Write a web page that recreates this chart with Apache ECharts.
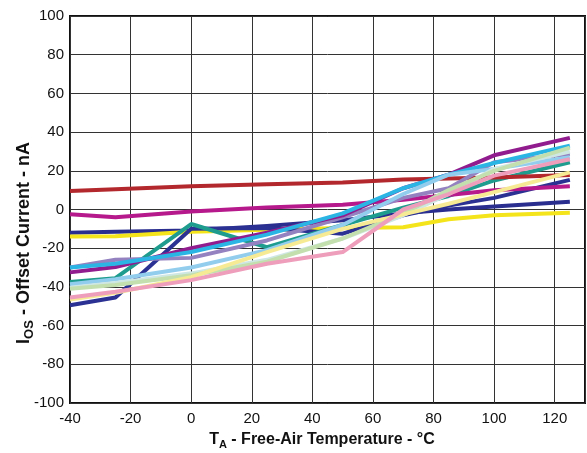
<!DOCTYPE html>
<html>
<head>
<meta charset="utf-8">
<script src="https://cdn.jsdelivr.net/npm/echarts@6/dist/echarts.min.js"></script>
<style>
html,body{margin:0;padding:0;background:#fff;}
#chart{width:587px;height:453px;}
</style>
</head>
<body>
<div id="chart"></div>
<script>
// Temperatures (°C) at which each unit was measured
var temps = [-40, -25, 0, 25, 50, 70, 85, 100, 125];
var xTicks = [-40, -20, 0, 20, 40, 60, 80, 100, 120];
var yTicks = [-100, -80, -60, -40, -20, 0, 20, 40, 60, 80, 100];

// Offset current (nA) for each sample unit
var navyA      = [-12, -11.5, -10.8, -8.5, -5.5, -2, 0, 1.5, 4];
var yellow     = [-14, -13.8, -11.5, -10.5, -9.5, -9.2, -5, -3, -1.7];
var navyB      = [-49.5, -45.5, -10, -9.5, -12.5, -3, 2, 6, 15.3];
var teal       = [-37.5, -35.5, -7.5, -19.5, -8, 1, 7, 15, 24.4];
var darkRed    = [9.5, 10.5, 12, 13, 14, 15.5, 16, 16.5, 17.8];
var magenta    = [-2.5, -4, -1, 1, 2.5, 5, 7.5, 10, 12];
var lavender   = [-30, -26, -25, -16, -4, 6, 11, 24.4, 28.7];
var purple     = [-32.5, -29.7, -20, -12, -3, 11, 18, 28, 37];
var cyan       = [-30, -28, -22, -13, -2, 11, 18, 24, 33];
var skyBlue    = [-38.6, -36, -30, -21, -8, 8, 18, 21, 27];
var paleMint   = [-40.4, -38, -33, -26, -15, -3, 8, 21, 30];
var lightGreen = [-41, -39, -34, -27, -15, -2, 10, 20, 32];
var lightYellow= [-46.5, -43, -35, -22, -10, -2.5, 3, 9, 19.2];
var pink       = [-45.5, -42.5, -36.5, -28, -22, 0, 8, 17.5, 26];

var seriesDefs = [
  ['navyA', navyA, '#2a2e8e'],
  ['yellow', yellow, '#f4e41b'],
  ['navyB', navyB, '#2b3192'],
  ['teal', teal, '#1e9c8e'],
  ['darkRed', darkRed, '#b3282d'],
  ['magenta', magenta, '#b5198b'],
  ['lavender', lavender, '#9381c0'],
  ['purple', purple, '#901c8e'],
  ['cyan', cyan, '#2ab5e4'],
  ['skyBlue', skyBlue, '#92cdee'],
  ['paleMint', paleMint, '#cfe7e3'],
  ['lightGreen', lightGreen, '#c3dfae'],
  ['lightYellow', lightYellow, '#f6eb94'],
  ['pink', pink, '#ee9dbb']
];

function pairs(vals){ return temps.map(function(t,i){ return [t, vals[i]]; }); }

var chart = echarts.init(document.getElementById('chart'), null, {renderer:'canvas'});
var font = '"Liberation Sans", Arial, Helvetica, sans-serif';

function titleRich(size){
  return {
    b: {fontSize: size, fontWeight: 'bold', fontFamily: font, fill: '#111'},
    s: {fontSize: Math.round(size*0.7), fontWeight: 'bold', fontFamily: font, fill: '#111', verticalAlign: 'bottom', padding: [Math.round(size*0.55),0,0,0]}
  };
}

chart.setOption({
  animation: false,
  backgroundColor: '#ffffff',
  grid: {left: 70, top: 16, right: 2, bottom: 50, show: true, borderColor: '#111', borderWidth: 2, backgroundColor: 'transparent'},
  xAxis: {
    type: 'value', min: -40, max: 130, interval: 20,
    axisLine: {show: false},
    axisTick: {show: false},
    splitLine: {show: true, lineStyle: {color: '#333', width: 1}},
    axisLabel: {color: '#111', fontSize: 15, fontFamily: font, margin: 8, showMaxLabel: false,
      formatter: function(v){ return xTicks.indexOf(v) >= 0 ? String(v) : ''; }}
  },
  yAxis: {
    type: 'value', min: -100, max: 100, interval: 20,
    axisLine: {show: false},
    axisTick: {show: false},
    splitLine: {show: true, lineStyle: {color: '#333', width: 1}},
    axisLabel: {color: '#111', fontSize: 15, fontFamily: font, margin: 6,
      formatter: function(v){ return yTicks.indexOf(v) >= 0 ? String(v) : ''; }}
  },
  graphic: [
    {type: 'text', x: 322, y: 440, style: {
      text: '{b|T}{s|A}{b| - Free-Air Temperature - °C}',
      align: 'center', verticalAlign: 'middle',
      rich: titleRich(16)
    }},
    {type: 'text', x: 24, y: 243, rotation: Math.PI/2, style: {
      text: '{b|I}{s|OS}{b| - Offset Current - nA}',
      align: 'center', verticalAlign: 'middle',
      rich: titleRich(18)
    }}
  ],
  series: seriesDefs.map(function(d){
    return {
      name: d[0], type: 'line', data: pairs(d[1]), symbol: 'none',
      lineStyle: {color: d[2], width: 4, join: 'round'},
      itemStyle: {color: d[2]},
      clip: true
    };
  })
});
</script>
</body>
</html>
